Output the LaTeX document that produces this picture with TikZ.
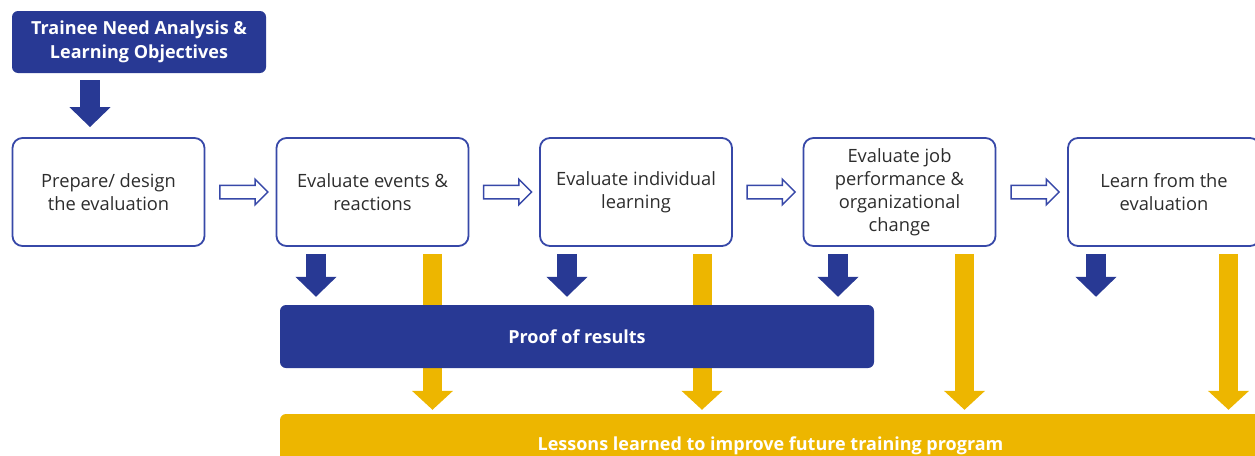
\documentclass[tikz,border=0pt]{standalone}
\usepackage{fontspec}
\setmainfont{Open Sans}
\usetikzlibrary{arrows.meta,shapes.arrows,calc}

\definecolor{navy}{RGB}{40,57,148}
\definecolor{frame}{RGB}{55,72,168}
\definecolor{gold}{RGB}{237,182,0}
\definecolor{ink}{RGB}{45,45,45}

\tikzset{
  stepbox/.style={rectangle, rounded corners=10pt, draw=frame, line width=1.8pt, fill=white,
    minimum width=192pt, minimum height=108pt, align=center, text=ink,
    font=\fontsize{18.3}{23}\selectfont},
  bar/.style={rectangle, rounded corners=6pt, align=center, text=white,
    font=\fontsize{18}{24}\selectfont\bfseries},
  hollow/.style={single arrow, draw=frame, line width=1.5pt, fill=white, inner xsep=0pt,
    inner ysep=6pt, minimum height=48pt, single arrow head extend=6pt},
  downblue/.style={draw=navy, line width=20pt, -{Triangle[width=40pt,length=20pt]},
    shorten <=7pt, shorten >=8pt},
  downgold/.style={draw=gold, line width=19pt, -{Triangle[width=40pt,length=19pt]},
    shorten <=7pt, shorten >=4pt}
}

\begin{document}
\begin{tikzpicture}[x=1pt, y=-1pt]

\useasboundingbox (0,0) rectangle (1255,455);
\clip (0,0) rectangle (1255,455);

\node (need)[bar, fill=navy, minimum width=254pt, minimum height=62pt] at (139,42) {Trainee Need Analysis \&\\Learning Objectives};

\node (b1)[stepbox] at (108.5,192) {Prepare/ design\\the evaluation};
\node (b2)[stepbox] at (372.5,192) {Evaluate events \&\\reactions};
\node (b3)[stepbox] at (636,192) {Evaluate individual\\learning};
\node (b4)[stepbox] at (899.5,192) {Evaluate job\\performance \&\\organizational\\change};
\node (b5)[stepbox] at (1164,192) {Learn from the\\evaluation};

\node (h1)[hollow] at ($(b1.east)!0.5!(b2.west)$) {};
\node (h2)[hollow] at ($(b2.east)!0.5!(b3.west)$) {};
\node (h3)[hollow] at ($(b3.east)!0.5!(b4.west)$) {};
\node (h4)[hollow] at ($(b4.east)!0.5!(b5.west)$) {};

\node (lessons)[bar, fill=gold, minimum width=981pt, minimum height=64pt] at (770.5,446) {Lessons learned to improve future training program};

% arrow columns
\coordinate (t1) at (90,0);
\coordinate (p2) at (316,0);
\coordinate (p3) at (567,0);
\coordinate (p4) at (838,0);
\coordinate (p5) at (1096,0);
\coordinate (l2) at (432.5,0);
\coordinate (l3) at (702,0);
\coordinate (l4) at (964.5,0);
\coordinate (l5) at (1228.5,0);

\draw[downblue, shorten >=10pt] (t1 |- need.south) -- (t1 |- b1.north);

\draw[downgold] (l2 |- b2.south) -- (l2 |- lessons.north);
\draw[downgold] (l3 |- b3.south) -- (l3 |- lessons.north);
\draw[downgold] (l4 |- b4.south) -- (l4 |- lessons.north);
\draw[downgold] (l5 |- b5.south) -- (l5 |- lessons.north);

\node (proof)[bar, fill=navy, minimum width=594pt, minimum height=63pt] at (577,336.5) {Proof of results};

\draw[downblue] (p2 |- b2.south) -- (p2 |- proof.north);
\draw[downblue] (p3 |- b3.south) -- (p3 |- proof.north);
\draw[downblue] (p4 |- b4.south) -- (p4 |- proof.north);
\draw[downblue] (p5 |- b5.south) -- (p5 |- proof.north);

\end{tikzpicture}
\end{document}
